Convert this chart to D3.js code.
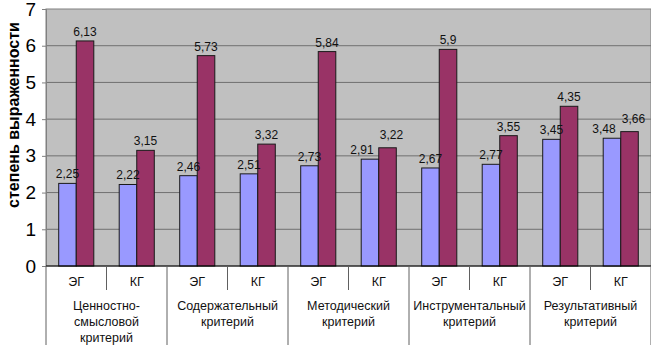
<!DOCTYPE html>
<html>
<head>
<meta charset="utf-8">
<script src="https://cdn.jsdelivr.net/npm/d3@7"></script>
<style>
  body { margin: 0; background: #fff; }
  text { font-family: "Liberation Sans", Arial, sans-serif; }
</style>
</head>
<body>
<div id="chart"></div>
<script>
// groups and criteria
const criteria = [["Ценностно-", "смысловой", "критерий"], ["Содержательный", "критерий"],
  ["Методический", "критерий"], ["Инструментальный", "критерий"], ["Результативный", "критерий"]];
const groups = ["ЭГ", "КГ"];
// series values (before / after)
const before = [2.25, 2.22, 2.46, 2.51, 2.73, 2.91, 2.67, 2.77, 3.45, 3.48];
const after = [6.13, 3.15, 5.73, 3.32, 5.84, 3.22, 5.9, 3.55, 4.35, 3.66];
const yTicks = [0, 1, 2, 3, 4, 5, 6, 7];

const W = 651, H = 345;
const margin = {top: 9, right: 0, bottom: 79, left: 46};
const width = W - margin.left - margin.right,
    height = H - margin.top - margin.bottom;

const svg = d3.select("#chart").append("svg")
    .attr("width", W).attr("height", H);

const g = svg.append("g").attr("transform", "translate(" + margin.left + "," + margin.top + ")");

const cats = d3.range(before.length);
const x = d3.scaleBand().domain(cats).range([0, width]).paddingInner(0).paddingOuter(0);
const inner = d3.scaleBand().domain([0, 1]).range([x.bandwidth() * 0.21, x.bandwidth() * 0.79]);
const y = d3.scaleLinear().domain([0, 7]).range([height, 0]);

// plot background
g.append("rect").attr("x", 0).attr("y", 0).attr("width", width).attr("height", height)
    .attr("fill", "#c0c0c0").attr("stroke", "#808080");

// gridlines
g.selectAll(".grid").data(yTicks.slice(1, -1)).join("line")
    .attr("x1", 0).attr("x2", width)
    .attr("y1", d => y(d)).attr("y2", d => y(d))
    .attr("stroke", "#707070").attr("stroke-width", 1);

// y axis
const yAxis = g.append("g").call(d3.axisLeft(y).tickValues(yTicks).tickSize(4).tickFormat(d3.format("d")));
yAxis.select(".domain").attr("stroke", "#808080");
yAxis.selectAll(".tick line").attr("stroke", "#808080");
yAxis.selectAll("text").attr("font-size", 19).attr("fill", "#000").attr("dx", -3);

svg.append("text")
    .attr("transform", "translate(19," + (margin.top + 106) + ") rotate(-90)")
    .attr("text-anchor", "middle")
    .attr("font-size", 16).attr("font-weight", "bold")
    .text("степень выраженности");

// bars
const series = [before, after];
const colors = ["#9999ff", "#993366"];
series.forEach((vals, s) => {
  g.selectAll(".bar" + s).data(vals).join("rect")
      .attr("x", (d, i) => x(i) + inner(s))
      .attr("y", d => y(d))
      .attr("width", inner.bandwidth())
      .attr("height", d => height - y(d))
      .attr("fill", colors[s])
      .attr("stroke", "#1a1a1a").attr("stroke-width", 1);
});

// value labels, nudged apart when the two bars of a pair are almost equal
series.forEach((vals, s) => {
  g.selectAll(".lab" + s).data(vals).join("text")
      .attr("x", (d, i) => {
        const close = Math.abs(y(before[i]) - y(after[i])) < 14;
        const shift = close ? (s === 0 ? -8 : 4) : 0;
        return x(i) + inner(s) + inner.bandwidth() / 2 + shift;
      })
      .attr("y", (d, i) => {
        const close = Math.abs(y(before[i]) - y(after[i])) < 14;
        return y(d) - 5 - (close && s === 1 ? 4 : 0);
      })
      .attr("text-anchor", "middle")
      .attr("font-size", 12).attr("fill", "#111")
      .text(d => String(d).replace(".", ","));
});

// x axis line
g.append("line").attr("x1", 0).attr("x2", width).attr("y1", height).attr("y2", height)
    .attr("stroke", "#000");

// category separators
g.selectAll(".sep").data(d3.range(before.length + 1)).join("line")
    .attr("x1", d => d < before.length ? x(d) : width)
    .attr("x2", d => d < before.length ? x(d) : width)
    .attr("y1", height)
    .attr("y2", d => d % 2 === 0 ? H - margin.top : height + 24)
    .attr("stroke", "#606060");

// group labels (ЭГ / КГ)
g.selectAll(".grp").data(cats).join("text")
    .attr("x", d => x(d) + x.bandwidth() / 2)
    .attr("y", height + 20)
    .attr("text-anchor", "middle")
    .attr("font-size", 12.5).attr("fill", "#111")
    .text(d => groups[d % 2]);

// criteria labels
criteria.forEach((lines, k) => {
  const cx = x(k * 2) + x.bandwidth();
  const t = g.append("text")
      .attr("x", cx)
      .attr("y", height + 44)
      .attr("text-anchor", "middle")
      .attr("font-size", 12.5).attr("fill", "#111");
  lines.forEach((l, j) => {
    t.append("tspan").attr("x", cx).attr("dy", j === 0 ? 0 : 16).text(l);
  });
});
</script>
</body>
</html>
